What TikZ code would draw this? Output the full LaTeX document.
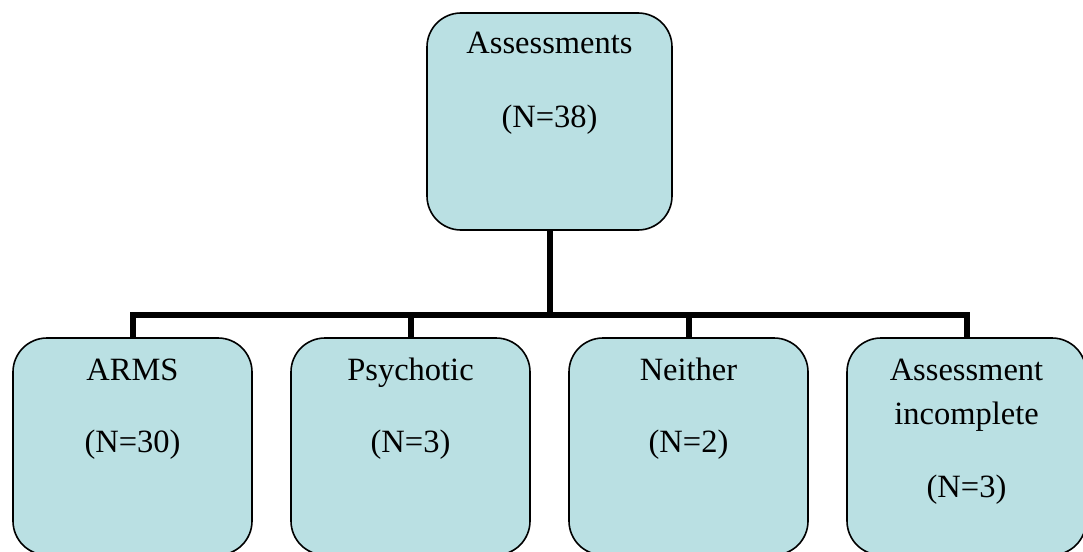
\documentclass[tikz,border=0pt]{standalone}
\usepackage{fontspec}
\setmainfont{Liberation Serif}
\definecolor{boxfill}{RGB}{186,224,227}
\tikzset{
  x=1pt, y=-1pt,
  boxnode/.style={draw=black, line width=1.6pt, fill=boxfill, rounded corners=34pt,
    minimum width=239pt, minimum height=217pt, inner sep=0pt},
  txt/.style={anchor=base, inner sep=0pt, font=\fontsize{32.5}{39}\selectfont},
  conn/.style={line width=6pt, draw=black}
}
\begin{document}
\begin{tikzpicture}
\useasboundingbox (0,0) rectangle (1083,551);
\node[boxnode, minimum width=245pt] (top) at (549.5,121.5) {};
\node[boxnode] (b1) at (132.5,446.5) {};
\node[boxnode] (b2) at (410.5,446.5) {};
\node[boxnode] (b3) at (688.5,446.5) {};
\node[boxnode] (b4) at (966.5,446.5) {};
\coordinate (bus) at (549.5,315);
\draw[conn] (top.south) -- (bus);
\draw[conn] (bus) -| (b1.north);
\draw[conn] (bus) -| (b2.north);
\draw[conn] (bus) -| (b3.north);
\draw[conn] (bus) -| (b4.north);
\node[txt] (t0a) at (549.5,54) {Assessments};
\node[txt] (t0b) at (549.5,127) {(N=38)};
\node[txt] (t1a) at (132.5,380) {ARMS};
\node[txt] (t1b) at (132.5,452) {(N=30)};
\node[txt] (t2a) at (410.5,380) {Psychotic};
\node[txt] (t2b) at (410.5,452) {(N=3)};
\node[txt] (t3a) at (688.5,380) {Neither};
\node[txt] (t3b) at (688.5,452) {(N=2)};
\node[txt] (t4a) at (966.5,380) {Assessment};
\node[txt] (t4b) at (966.5,424) {incomplete};
\node[txt] (t4c) at (966.5,497) {(N=3)};
\end{tikzpicture}
\end{document}
